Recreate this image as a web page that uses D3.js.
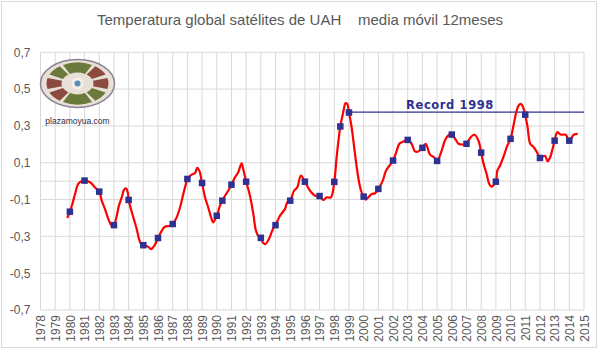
<!DOCTYPE html>
<html><head><meta charset="utf-8">
<script src="https://cdn.jsdelivr.net/npm/d3@7"></script>
<style>body{margin:0;background:#fff}svg{display:block}</style>
</head><body>
<svg id="c" width="600" height="350"></svg>
<script>
const titleText = "Temperatura global satélites de UAH    media móvil 12meses";
const recordLabel = "Record 1998";
const logoLabel = "plazamoyua.com";
const xTickYears = d3.range(1978, 2016);
const yTickValues = [-0.7, -0.5, -0.3, -0.1, 0.1, 0.3, 0.5, 0.7];

const curveYears = [1979.82,1980.00,1980.17,1980.35,1980.57,1980.80,1981.00,1981.37,1981.71,1982.00,1982.17,1982.39,1982.62,1982.85,1983.00,1983.19,1983.34,1983.53,1983.68,1983.82,1983.94,1984.00,1984.32,1984.55,1984.71,1984.89,1985.00,1985.34,1985.52,1985.75,1986.00,1986.25,1986.47,1986.82,1987.00,1987.27,1987.50,1987.72,1987.90,1988.00,1988.29,1988.52,1988.67,1988.81,1989.00,1989.20,1989.42,1989.65,1989.76,1990.00,1990.22,1990.38,1990.56,1990.78,1991.00,1991.24,1991.46,1991.69,1991.80,1992.00,1992.26,1992.49,1992.67,1992.85,1993.00,1993.15,1993.30,1993.50,1993.70,1993.85,1994.00,1994.30,1994.64,1994.80,1995.00,1995.26,1995.48,1995.73,1996.00,1996.35,1996.69,1997.00,1997.25,1997.48,1997.77,1998.00,1998.16,1998.41,1998.61,1998.77,1998.88,1999.00,1999.18,1999.41,1999.63,1999.82,2000.00,2000.14,2000.31,2000.55,2000.77,2001.00,2001.30,2001.52,2002.00,2002.25,2002.43,2002.70,2003.00,2003.27,2003.49,2003.72,2004.00,2004.22,2004.52,2004.79,2005.00,2005.31,2005.53,2005.76,2006.00,2006.23,2006.46,2006.75,2007.00,2007.25,2007.54,2007.81,2008.00,2008.14,2008.37,2008.55,2008.71,2008.82,2009.00,2009.10,2009.28,2009.51,2009.78,2010.00,2010.20,2010.39,2010.55,2010.71,2010.85,2011.00,2011.16,2011.34,2011.58,2011.80,2012.00,2012.19,2012.35,2012.53,2012.70,2012.83,2013.00,2013.18,2013.41,2013.75,2014.00,2014.30,2014.57];
const curveValues = [-0.200,-0.166,-0.124,-0.070,-0.015,-0.001,0.003,-0.006,-0.034,-0.057,-0.106,-0.152,-0.206,-0.242,-0.239,-0.188,-0.133,-0.088,-0.048,-0.039,-0.061,-0.102,-0.197,-0.260,-0.315,-0.348,-0.348,-0.357,-0.369,-0.351,-0.309,-0.270,-0.248,-0.242,-0.233,-0.197,-0.143,-0.070,-0.015,0.012,0.035,0.044,0.072,0.057,-0.010,-0.088,-0.143,-0.206,-0.224,-0.188,-0.133,-0.106,-0.079,-0.052,-0.019,0.021,0.048,0.097,0.066,-0.003,-0.079,-0.179,-0.270,-0.300,-0.308,-0.335,-0.342,-0.322,-0.285,-0.255,-0.239,-0.188,-0.152,-0.115,-0.106,-0.052,-0.034,0.030,-0.003,-0.052,-0.079,-0.081,-0.102,-0.088,-0.088,-0.004,0.130,0.297,0.375,0.424,0.420,0.373,0.293,0.148,0.021,-0.052,-0.084,-0.101,-0.088,-0.070,-0.066,-0.042,0.003,0.057,0.112,0.165,0.203,0.215,0.224,0.203,0.162,0.161,0.181,0.203,0.144,0.130,0.110,0.166,0.221,0.248,0.253,0.230,0.203,0.199,0.203,0.235,0.252,0.221,0.155,0.102,0.039,-0.015,-0.030,-0.025,-0.003,0.057,0.084,0.130,0.193,0.230,0.302,0.375,0.411,0.420,0.402,0.361,0.293,0.203,0.184,0.157,0.126,0.133,0.137,0.108,0.130,0.166,0.220,0.266,0.253,0.252,0.220,0.252,0.257];

const markerYears = [1980,1981,1982,1983,1984,1985,1986,1987,1988,1989,1990,1990.38,1991,1992,1993,1994,1995,1996,1997,1998,1998.41,1999,2000,2001,2002,2003,2004,2005,2006,2007,2008,2009,2010,2011,2012,2013,2014];
const markerValues = [-0.166,0.003,-0.057,-0.239,-0.102,-0.348,-0.309,-0.233,0.012,-0.010,-0.188,-0.106,-0.019,-0.003,-0.308,-0.239,-0.106,-0.003,-0.081,-0.004,0.297,0.373,-0.084,-0.042,0.112,0.224,0.181,0.110,0.253,0.203,0.155,-0.003,0.230,0.361,0.126,0.220,0.220];

const recordStartYear = 1999;
const recordValue = 0.375;

const svg = d3.select("#c");
const L = 40.5, R = 584, T = 52.3, B = 310;
const x = d3.scaleLinear().domain([1978, 2015]).range([L, R]);
const y = d3.scaleLinear().domain([-0.7, 0.7]).range([B, T]);
const grid = "#d9d9d9", txt = "#595959", navy = "#2e3192";
const font = "'Liberation Sans', Arial, sans-serif";

svg.append("rect").attr("x",1.5).attr("y",1.5).attr("width",595).attr("height",346)
  .attr("fill","#fff").attr("stroke",grid).attr("stroke-width",1);

svg.append("text").attr("x",300).attr("y",25).attr("text-anchor","middle")
  .attr("font-family",font).attr("font-size",15).attr("fill",txt)
  .style("white-space","pre").attr("xml:space","preserve").text(titleText);

// gridlines
const gv = svg.append("g");
gv.selectAll("line.v").data(xTickYears).join("line")
  .attr("x1",d=>x(d)).attr("x2",d=>x(d)).attr("y1",T).attr("y2",B)
  .attr("stroke",grid).attr("stroke-width",1);
gv.selectAll("line.h").data(yTickValues.concat([0])).join("line")
  .attr("x1",L).attr("x2",R).attr("y1",d=>y(d)).attr("y2",d=>y(d))
  .attr("stroke",grid).attr("stroke-width",1);

// y axis labels
const yAxis = d3.axisLeft(y).tickValues(yTickValues).tickSize(0).tickPadding(10)
  .tickFormat(d=>d3.format(".1f")(d).replace(".",",").replace("−","-"));
const ya = svg.append("g").attr("transform",`translate(${L},0)`).call(yAxis);
ya.select(".domain").remove();
ya.selectAll("text").attr("font-family",font).attr("font-size",12).attr("fill",txt);

// x axis labels
const xAxis = d3.axisBottom(x).tickValues(xTickYears).tickSize(0).tickFormat(d3.format("d"));
const xa = svg.append("g").attr("transform",`translate(0,${B})`).call(xAxis);
xa.select(".domain").remove();
xa.selectAll("text").attr("font-family",font).attr("font-size",12).attr("fill",txt)
  .attr("transform","rotate(-90)").attr("text-anchor","end")
  .attr("x",-5).attr("y",0).attr("dy","0.35em");

// logo
const logo = svg.append("g").attr("transform","translate(77.5,83.5)");
logo.append("ellipse").attr("rx",37).attr("ry",24).attr("fill","#e8e0d6")
  .attr("stroke","#8a8398").attr("stroke-width",1.5);
const segs = [[-28,28,"#6b7a3c"],[35,65,"#8b4b3f"],[75,105,"#8b4b3f"],[115,145,"#6b7a3c"],
  [152,208,"#6b7a3c"],[215,245,"#8b4b3f"],[255,285,"#8b4b3f"],[295,325,"#6b7a3c"]];
const arc = d3.arc().innerRadius(16).outerRadius(31);
const sg = logo.append("g").attr("transform","scale(1,0.68)");
sg.selectAll("path").data(segs).join("path")
  .attr("d",d=>arc({startAngle:d[0]*Math.PI/180,endAngle:d[1]*Math.PI/180}))
  .attr("fill",d=>d[2]);
logo.append("circle").attr("r",6).attr("fill","#f2eee8");
logo.append("circle").attr("r",3).attr("fill","#5b8db8");
svg.append("text").attr("x",77.5).attr("y",124).attr("text-anchor","middle")
  .attr("font-family",font).attr("font-size",8.5).attr("fill","#2b2b45").text(logoLabel);

// record line
svg.append("line").attr("x1",x(recordStartYear)).attr("x2",R)
  .attr("y1",y(recordValue)).attr("y2",y(recordValue))
  .attr("stroke",navy).attr("stroke-width",1.2);
svg.append("text").attr("x",450).attr("y",109).attr("text-anchor","middle")
  .attr("font-family","'DejaVu Sans', Verdana, sans-serif").attr("font-weight","bold")
  .attr("font-size",11.5).attr("letter-spacing",0.6).attr("fill",navy).text(recordLabel);

// curve
const pts = curveYears.map((yr,i)=>[yr, curveValues[i]]);
const line = d3.line().x(d=>x(d[0])).y(d=>y(d[1])).curve(d3.curveCatmullRom.alpha(0.5));
svg.append("path").attr("d",line(pts)).attr("fill","none")
  .attr("stroke","#ff0000").attr("stroke-width",2.2).attr("stroke-linejoin","round");

// markers
const ms = 6.5;
svg.append("g").selectAll("rect").data(markerYears.map((yr,i)=>[yr,markerValues[i]])).join("rect")
  .attr("x",d=>x(d[0])-ms/2).attr("y",d=>y(d[1])-ms/2).attr("width",ms).attr("height",ms)
  .attr("fill",navy);
</script>
</body></html>
